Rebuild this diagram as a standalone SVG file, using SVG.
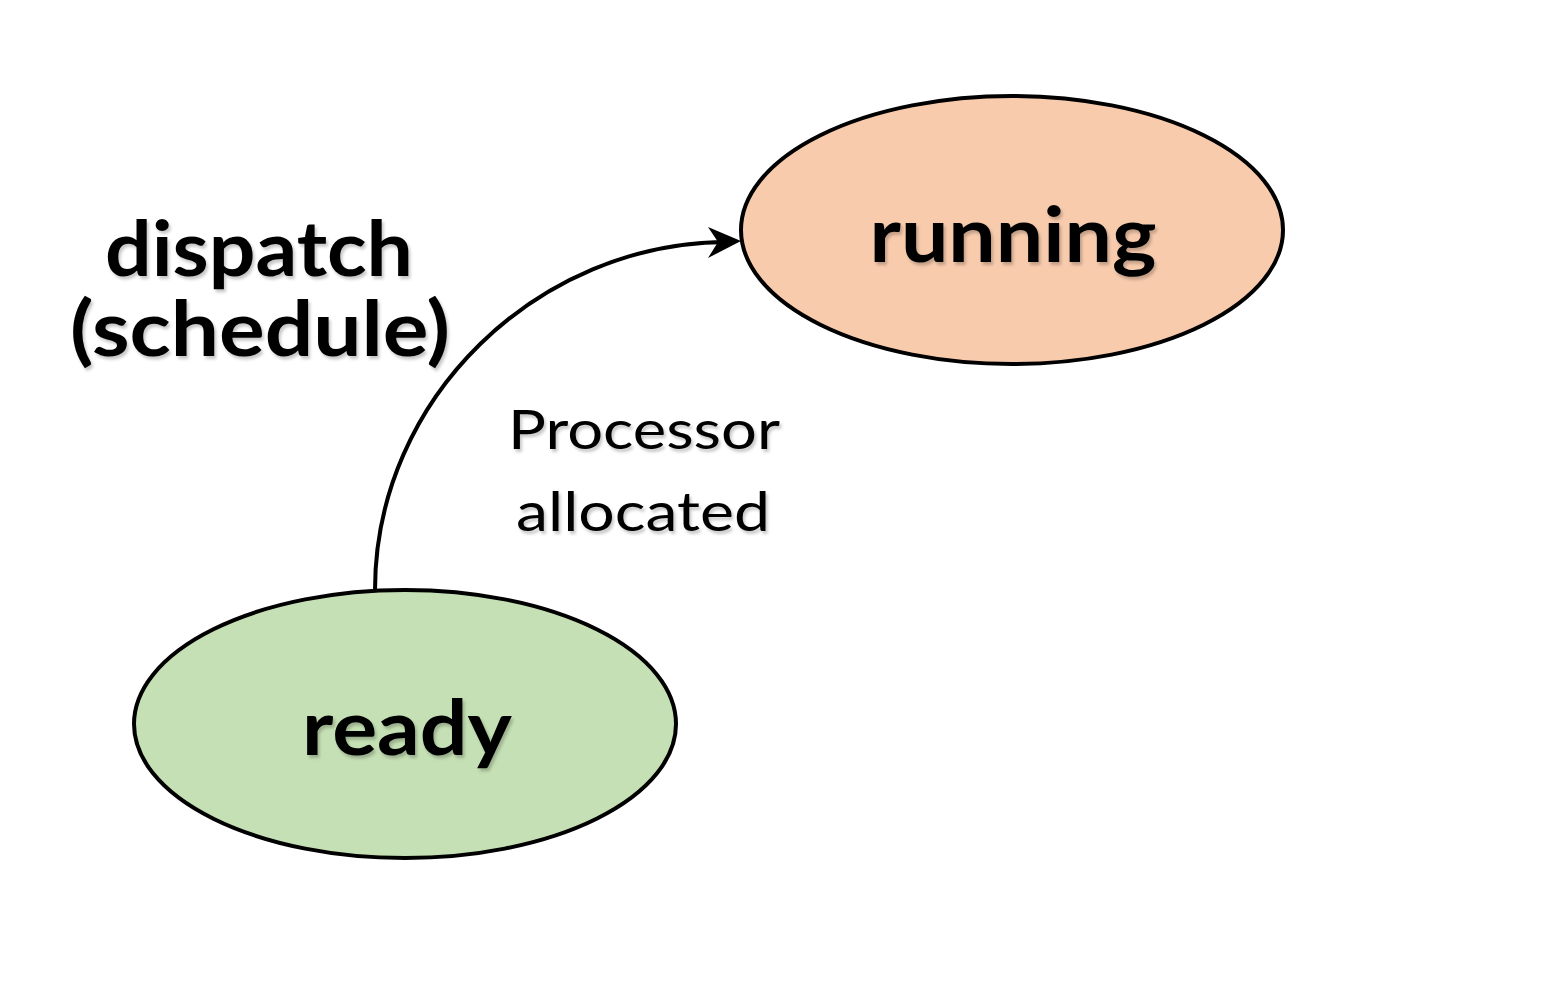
<svg xmlns="http://www.w3.org/2000/svg" width="1549" height="1000" viewBox="0 0 1549 1000">
<defs>
<filter id="sh" x="-10%" y="-10%" width="120%" height="130%">
<feDropShadow dx="2" dy="3" stdDeviation="1.5" flood-color="#000" flood-opacity="0.22"/>
</filter>
</defs>
<style>
.node{stroke:#000;stroke-width:4}
.big{font-family:Lato,"Open Sans",sans-serif;font-weight:bold;font-size:76px;fill:#000;text-anchor:middle}
.small{font-family:Lato,"Open Sans",sans-serif;font-size:54px;fill:#000;text-anchor:middle}
</style>
<rect width="1549" height="1000" fill="#fff"/>
<g id="connectors">
<path d="M375,590 C375,398 538,242 728,242" fill="none" stroke="#000" stroke-width="4"/>
<path d="M708,227 L741,241 L708,258 L718,242 Z" fill="#000"/>
</g>
<g id="running">
<ellipse class="node" cx="1012" cy="230" rx="271" ry="134" fill="#F8CBAD"/>
<text class="big" x="1013" y="262" textLength="287" lengthAdjust="spacingAndGlyphs" filter="url(#sh)">running</text>
</g>
<g id="ready">
<ellipse class="node" cx="405" cy="724" rx="271" ry="134" fill="#C5E0B4"/>
<text class="big" x="407" y="755" textLength="210" lengthAdjust="spacingAndGlyphs" filter="url(#sh)">ready</text>
</g>
<g id="label-dispatch">
<text class="big" x="259" y="276" textLength="308" lengthAdjust="spacingAndGlyphs" filter="url(#sh)">dispatch</text>
<text class="big" x="260" y="356" textLength="380" lengthAdjust="spacingAndGlyphs" filter="url(#sh)">(schedule)</text>
</g>
<g id="label-processor">
<text class="small" x="644" y="449" textLength="272" lengthAdjust="spacingAndGlyphs" filter="url(#sh)">Processor</text>
<text class="small" x="643" y="531" textLength="254" lengthAdjust="spacingAndGlyphs" filter="url(#sh)">allocated</text>
</g>
</svg>
